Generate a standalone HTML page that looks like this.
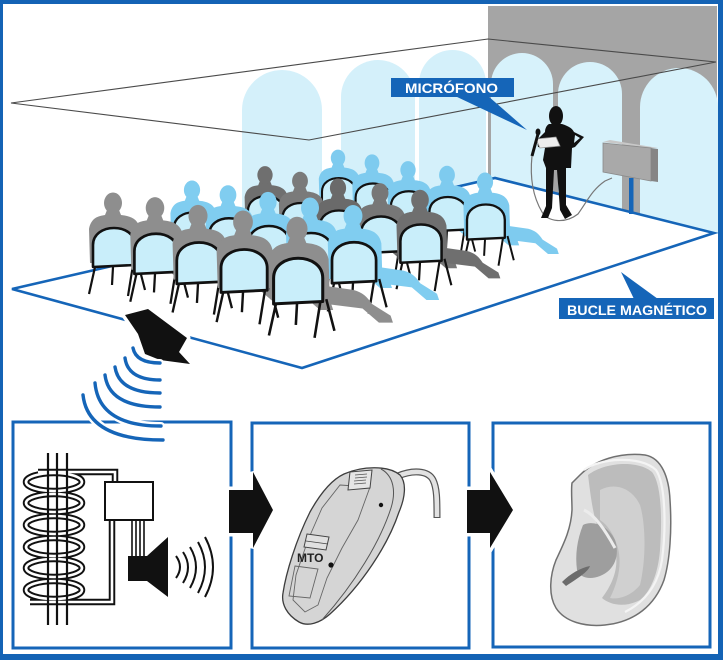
<!DOCTYPE html>
<html><head><meta charset="utf-8"><style>
html,body{margin:0;padding:0;background:#fff;}
svg{display:block;}
</style></head><body>
<svg width="723" height="660" viewBox="0 0 723 660" xmlns="http://www.w3.org/2000/svg">
<defs>
<g id="seat">
  <path d="M6,46 L48,52 C56,54 60,58 64,64 L80,74 L82,80 L70,80 L56,68 L8,62 Z"/>
  <path d="M-6,7 L6,7 L8,12 C18,13 25,16 27,26 L28,60 L-23,60 L-24,26 C-22,15 -15,13 -8,12 Z"/>
  <ellipse cx="0" cy="0" rx="9" ry="10.5"/>
  <path d="M-18,64 L-24,91 M20,62 L15,93 M0,64 L-1,82 M25,60 L32,87" stroke="#111" stroke-width="2.2" fill="none"/>
  <path d="M-20,64 L-20,42 C-20,31 -10,25 1,25 C12,25 22,31 22,42 L22,62 Z" fill="#c9eefa" stroke="#111" stroke-width="2.6" stroke-linejoin="round"/>
</g>
</defs>

<!-- outer border -->
<rect x="0" y="0" width="723" height="660" fill="#1463b5"/>
<rect x="3" y="4" width="715" height="650" fill="#fff"/>

<!-- left arches (outside wall) -->
<g fill="#d4f0fa">
  <path d="M242,236 V110 A40,40 0 0 1 322,110 V218 Z"/>
  <path d="M341,214 V97 A37,37 0 0 1 415,97 V197 Z"/>
  <path d="M419,196 V83.5 A33.5,33.5 0 0 1 486,83.5 V180 Z"/>
</g>
<!-- wall -->
<polygon points="488,6 717,6 717,233 488,177" fill="#a5a5a5"/>
<g fill="#d7f2fb">
  <path d="M491,178 V84 A31,31 0 0 1 553,84 V193 Z"/>
  <path d="M558,194 V94 A32,32 0 0 1 622,94 V211 Z"/>
  <path d="M640,216 V107 A39,39 0 0 1 718,107 V234 Z"/>
</g>

<!-- ceiling outline -->
<polygon points="11,103 488,39 716,62 309,140" fill="none" stroke="#4a4a4a" stroke-width="1.1"/>

<!-- floor loop -->
<polygon points="12,289 495,178 714,233 302,368" fill="none" stroke="#1565b8" stroke-width="2.6" stroke-linejoin="miter"/>

<!-- audience row 4 -->
<g fill="#7ecbef">
  <use href="#seat" transform="translate(338,158) scale(0.8)"/>
  <use href="#seat" transform="translate(372,163) scale(0.82)"/>
  <use href="#seat" transform="translate(408,170) scale(0.85)"/>
  <use href="#seat" transform="translate(447,175) scale(0.88)"/>
  <use href="#seat" transform="translate(485,182) scale(0.9)"/>
</g>
<!-- row 3 -->
<use href="#seat" transform="translate(265,175) scale(0.85)" fill="#6f6f6f"/>
<use href="#seat" transform="translate(300,181) scale(0.88)" fill="#7a7a7a"/>
<use href="#seat" transform="translate(338,188) scale(0.9)" fill="#6a6a6a"/>
<use href="#seat" transform="translate(380,193) scale(0.94)" fill="#777"/>
<use href="#seat" transform="translate(420,200) scale(0.98)" fill="#6f6f6f"/>
<!-- row 2 -->
<g fill="#80cdf0">
  <use href="#seat" transform="translate(192,190) scale(0.9)"/>
  <use href="#seat" transform="translate(228,195) scale(0.93)"/>
  <use href="#seat" transform="translate(268,202) scale(0.96)"/>
  <use href="#seat" transform="translate(310,208) scale(1.0)"/>
  <use href="#seat" transform="translate(353,216) scale(1.05)"/>
</g>
<!-- row 1 -->
<g fill="#8e8e8e">
  <use href="#seat" transform="translate(113,203)"/>
  <use href="#seat" transform="translate(155,208) scale(1.03)"/>
  <use href="#seat" transform="translate(198,216) scale(1.06)"/>
  <use href="#seat" transform="translate(243,222) scale(1.1)"/>
  <use href="#seat" transform="translate(297,229) scale(1.17)"/>
</g>

<!-- presenter -->
<path d="M532,156 C530,175 532,195 542,212 C548,222 565,224 578,214 C588,200 592,190 605,181 L612,178" fill="none" stroke="#777" stroke-width="1.2"/>
<ellipse cx="556" cy="116" rx="7" ry="10" fill="#111"/>
<path d="M549,124 L562,124 C568,126 572,128 574,132 L584,137 L575,147 L572,148 L571,168 L566,168 L566,205 L572,215 L565,219 L560,210 L557,170 L554,170 L552,208 L548,218 L541,218 L546,206 L546,168 L543,160 L545,148 L538,147 L537,140 L545,132 C545,128 547,125 549,124 Z" fill="#111"/>
<polygon points="575,135 580,138 574,143" fill="#d7f2fb"/>
<polygon points="536,139 556,137 560,146 540,148" fill="#eee" stroke="#999" stroke-width="0.8"/>
<line x1="538" y1="134" x2="532" y2="156" stroke="#111" stroke-width="3"/>
<ellipse cx="538" cy="132" rx="2.5" ry="3.5" fill="#111"/>

<!-- amplifier -->
<polygon points="603,142 610,140 658,148 651,148" fill="#c8c8c8"/>
<polygon points="603,143 651,148 651,181 603,172" fill="#a9a9a9" stroke="#8a8a8a" stroke-width="0.8"/>
<polygon points="651,148 658,149 658,182 651,181" fill="#858585"/>
<rect x="629" y="178" width="4.5" height="36" fill="#1565b8"/>

<!-- labels -->
<polygon points="455,96 488,96 527,130" fill="#1565b8"/>
<rect x="391" y="78" width="123" height="19" fill="#1565b8"/>
<text x="405" y="93" font-family="Liberation Sans, Arial, sans-serif" font-weight="bold" font-size="14" fill="#fff" textLength="93" lengthAdjust="spacingAndGlyphs">MICRÓFONO</text>
<polygon points="621,272 634,299 658,299" fill="#1565b8"/>
<rect x="559" y="298" width="155" height="21" fill="#1565b8"/>
<text x="567" y="315" font-family="Liberation Sans, Arial, sans-serif" font-weight="bold" font-size="14" fill="#fff" textLength="140" lengthAdjust="spacingAndGlyphs">BUCLE MAGNÉTICO</text>

<!-- bottom boxes -->
<g fill="none" stroke="#1565b8" stroke-width="3">
  <rect x="13" y="422" width="218" height="226"/>
  <rect x="252" y="423" width="217" height="225"/>
  <rect x="493" y="423" width="217" height="224"/>
</g>

<!-- loop loudspeaker -->
<polygon points="125,315 148,309 187,338 179,352 190,364 160,360 145,354 138,334" fill="#fff" stroke="#fff" stroke-width="7" stroke-linejoin="round"/>
<polygon points="125,315 148,309 187,338 179,352 190,364 160,360 145,354 138,334" fill="#111"/>

<!-- waves -->
<g fill="none" stroke="#fff" stroke-width="8" stroke-linecap="round">
  <path d="M133,348 Q136,363 160,363"/>
  <path d="M125,358 Q128,380 160,380"/>
  <path d="M115,367 Q119,393 160,393"/>
  <path d="M105,375 Q109,407 160,407"/>
  <path d="M95,383 Q99,426 161,426"/>
  <path d="M83,395 Q88,440 163,440"/>
</g>
<g fill="none" stroke="#1565b8" stroke-width="3.4" stroke-linecap="round">
  <path d="M133,348 Q136,363 160,363"/>
  <path d="M125,358 Q128,380 160,380"/>
  <path d="M115,367 Q119,393 160,393"/>
  <path d="M105,375 Q109,407 160,407"/>
  <path d="M95,383 Q99,426 161,426"/>
  <path d="M83,395 Q88,440 163,440"/>
</g>

<!-- arrows -->
<g stroke="#fff" stroke-width="7" stroke-linejoin="miter" fill="#111">
  <polygon points="229,490 253,490 253,472 273,510 253,548 253,533 229,533"/>
  <polygon points="467,490 490,490 490,472 513,510 490,548 490,533 467,533"/>
</g>
<g fill="#111">
  <polygon points="229,490 253,490 253,472 273,510 253,548 253,533 229,533"/>
  <polygon points="467,490 490,490 490,472 513,510 490,548 490,533 467,533"/>
</g>

<!-- coil diagram -->
<g fill="none">
  <g stroke="#111" stroke-width="6.5">
    <ellipse cx="54" cy="482" rx="28" ry="9"/>
    <ellipse cx="54" cy="503" rx="28" ry="9"/>
    <ellipse cx="54" cy="525" rx="28" ry="9"/>
    <ellipse cx="54" cy="547" rx="28" ry="9"/>
    <ellipse cx="54" cy="568" rx="28" ry="9"/>
    <ellipse cx="54" cy="590" rx="28" ry="9"/>
    <path d="M38,472 L115,472 L115,482"/>
    <path d="M30,602 L112,602 L112,520"/>
  </g>
  <g stroke="#fff" stroke-width="2.6">
    <ellipse cx="54" cy="482" rx="28" ry="9"/>
    <ellipse cx="54" cy="503" rx="28" ry="9"/>
    <ellipse cx="54" cy="525" rx="28" ry="9"/>
    <ellipse cx="54" cy="547" rx="28" ry="9"/>
    <ellipse cx="54" cy="568" rx="28" ry="9"/>
    <ellipse cx="54" cy="590" rx="28" ry="9"/>
    <path d="M38,472 L115,472 L115,482"/>
    <path d="M30,602 L112,602 L112,520"/>
  </g>
  <g stroke="#111" stroke-width="2.2">
    <line x1="48" y1="453" x2="48" y2="625"/>
    <line x1="57" y1="453" x2="57" y2="625"/>
    <line x1="67" y1="453" x2="67" y2="625"/>
  </g>
  <rect x="105" y="482" width="48" height="38" fill="#fff" stroke="#111" stroke-width="2"/>
  <g stroke="#111" stroke-width="1.6">
    <line x1="132" y1="520" x2="132" y2="556"/>
    <line x1="136" y1="520" x2="136" y2="556"/>
    <line x1="140" y1="520" x2="140" y2="556"/>
    <line x1="144" y1="520" x2="144" y2="556"/>
  </g>
  <rect x="128" y="556" width="19" height="25" fill="#111"/>
  <polygon points="147,556 168,537 168,597 147,581" fill="#111"/>
  <g stroke="#111" stroke-width="2">
    <path d="M176,556 Q184,567 176,578"/>
    <path d="M183,552 Q193,567 183,583"/>
    <path d="M190,547 Q202,567 190,588"/>
    <path d="M198,542 Q212,567 198,593"/>
    <path d="M205,537 Q221,567 205,597"/>
  </g>
</g>

<!-- hearing aid -->
<path d="M398,476 C412,470 428,470 433,480 C437,488 437,500 437,518" fill="none" stroke="#555" stroke-width="7"/>
<path d="M398,476 C412,470 428,470 433,480 C437,488 437,500 437,517" fill="none" stroke="#e2e2e2" stroke-width="4.6"/>
<path d="M344,474 C362,466 388,465 400,475 C407,483 405,498 399,512 C388,545 362,585 330,614 C320,623 308,627 299,622 C287,615 281,604 283,593 C286,573 296,540 310,512 C320,494 331,480 344,474 Z" fill="#d5d5d5" stroke="#3d3d3d" stroke-width="1.3"/>
<path d="M381,469 C394,476 396,492 391,508 C380,542 355,583 322,620" fill="none" stroke="#555" stroke-width="1"/>
<path d="M340,485 L370,487 L358,520 L342,548 L327,578 L318,605 L305,612 L293,600 L296,575 L308,540 L322,508 Z" fill="none" stroke="#666" stroke-width="0.9"/>
<path d="M350,472 L372,470 L370,488 L348,490 Z" fill="#e5e5e5" stroke="#444" stroke-width="1"/>
<g stroke="#555" stroke-width="0.8"><line x1="355" y1="475" x2="367" y2="474"/><line x1="355" y1="478" x2="367" y2="477"/><line x1="354" y1="481" x2="366" y2="480"/><line x1="354" y1="484" x2="366" y2="483"/></g>
<path d="M307,534 L329,537 L326,550 L304,547 Z" fill="#e0e0e0" stroke="#444" stroke-width="1"/>
<line x1="306" y1="541" x2="328" y2="544" stroke="#444" stroke-width="0.8"/>
<text x="297" y="562" font-family="Liberation Sans, Arial, sans-serif" font-weight="bold" font-size="12" fill="#222">MTO</text>
<path d="M295,566 L318,569 L310,598 L289,596 Z" fill="none" stroke="#666" stroke-width="0.9"/>
<circle cx="381" cy="505" r="2.2" fill="#111"/>
<circle cx="331" cy="565" r="2.6" fill="#111"/>

<!-- ear -->
<path d="M580,475 C595,460 620,452 645,455 C662,458 669,478 670,500 C672,530 670,560 664,580 C655,605 635,622 605,625 C585,627 565,622 556,608 C548,595 550,575 556,560 C563,545 571,530 572,510 C572,500 571,490 572,483 Z" fill="#e0e0e0" stroke="#707070" stroke-width="1.5"/>
<path d="M588,475 C605,462 638,460 652,472 C662,485 662,520 660,550 C658,575 650,592 640,600 C625,608 610,605 602,598 C612,585 618,570 616,555 C614,540 605,530 597,525 C592,510 590,490 588,475 Z" fill="#bcbcbc"/>
<path d="M600,490 C615,482 632,488 640,505 C646,525 646,560 640,585 C632,595 620,600 610,598 C618,582 622,565 618,548 C614,535 608,525 600,520 Z" fill="#d0d0d0"/>
<path d="M583,525 C592,520 608,525 615,540 C620,555 615,570 600,576 C590,580 580,578 577,570 C575,555 577,540 583,525 Z" fill="#9e9e9e"/>
<path d="M584,510 C595,515 605,530 615,548" fill="none" stroke="#ececec" stroke-width="3"/>
<path d="M562,582 C570,574 580,568 590,566 C588,572 578,578 566,586 Z" fill="#6c6c6c"/>
<path d="M584,470 C600,458 640,455 656,470 C666,485 666,530 662,560 C658,585 645,602 625,612" fill="none" stroke="#f4f4f4" stroke-width="2.2"/>
</svg>
</body></html>
